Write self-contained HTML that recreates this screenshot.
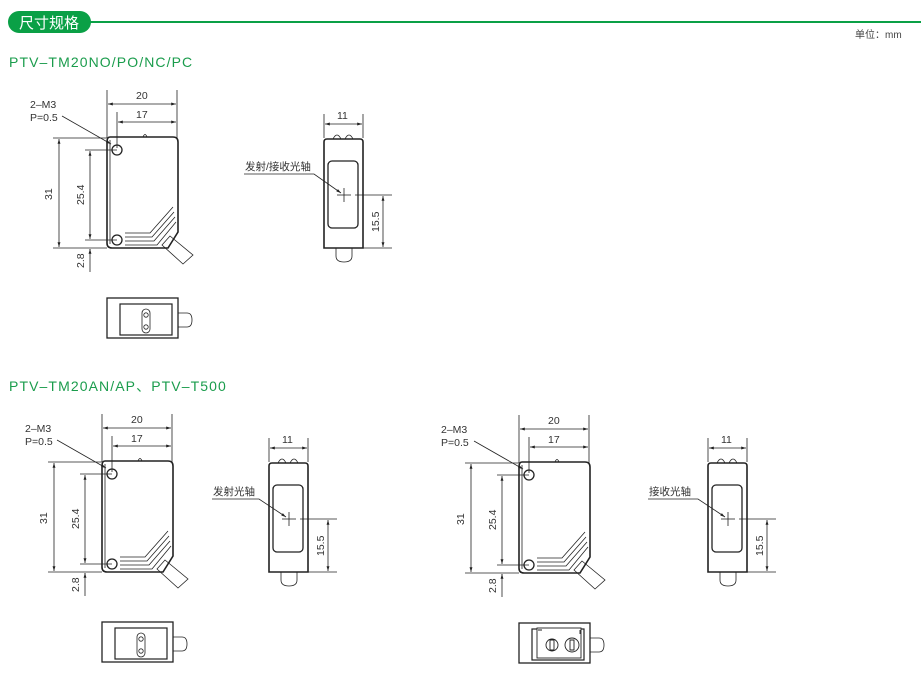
<!DOCTYPE html>
<html><head><meta charset="utf-8"><style>
html,body{margin:0;padding:0;background:#fff;width:921px;height:695px;overflow:hidden}
svg{display:block}
text{font-family:"Liberation Sans","Noto Sans CJK SC",sans-serif;fill:#333}
</style></head><body>
<svg width="921" height="695" viewBox="0 0 921 695" xmlns="http://www.w3.org/2000/svg">
<defs>
<marker id="a" viewBox="0 0 10 10" refX="10" refY="5" markerWidth="6" markerHeight="6" orient="auto-start-reverse"><path d="M0,2 L10,5 L0,8z" fill="#222"/></marker>
<g id="side" fill="none" stroke="#222" stroke-width="0.8">
 <line x1="107" y1="90" x2="107" y2="138"/><line x1="177" y1="90" x2="177" y2="138"/>
 <line x1="108" y1="104" x2="176" y2="104" marker-start="url(#a)" marker-end="url(#a)"/>
 <line x1="117" y1="112" x2="117" y2="148"/>
 <line x1="118" y1="122" x2="176" y2="122" marker-start="url(#a)" marker-end="url(#a)"/>
 <line x1="53" y1="138" x2="107" y2="138"/><line x1="53" y1="248" x2="107" y2="248"/>
 <line x1="59" y1="139" x2="59" y2="247" marker-start="url(#a)" marker-end="url(#a)"/>
 <line x1="85" y1="150" x2="117" y2="150"/><line x1="85" y1="240" x2="117" y2="240"/>
 <line x1="90" y1="151" x2="90" y2="239" marker-start="url(#a)" marker-end="url(#a)"/>
 <line x1="90" y1="249" x2="90" y2="272"/>
 <line x1="90" y1="252" x2="90" y2="249" marker-end="url(#a)"/>
 <line x1="62" y1="116" x2="111" y2="144" marker-end="url(#a)"/>
 <path d="M110,137 H173 Q178,137 178,142 V232 L168,248 H112 Q107,248 107,243 V142 Q107,137 110,137z" stroke-width="1.6"/>
 <path d="M110,140 V244" />
 <path d="M143,137 q2,-5 4,0"/>
 <circle cx="117" cy="150" r="5" stroke-width="1.3"/>
 <circle cx="117" cy="240" r="5" stroke-width="1.3"/>
 <path d="M125,233 H150 L173,207 M125,237 H152 L174,212 M125,241 H154 L175,217 M125,245 H157 L176,222"/>
 <path d="M162,245 L170,236 L193,255 L183,264z"/>
 <rect x="107" y="298" width="71" height="40" stroke-width="1.3"/>
 <rect x="120" y="304" width="52" height="31" stroke-width="1.2"/>
 <rect x="142" y="309" width="8" height="24" rx="4"/>
 <circle cx="146" cy="315" r="2.2"/><circle cx="146" cy="327" r="2.2"/>
 <path d="M178,313 H187 Q192,313 192,320 Q192,327 187,327 H178"/>
</g>
<g id="front" fill="none" stroke="#222" stroke-width="0.8">
 <line x1="324" y1="114" x2="324" y2="138"/><line x1="363" y1="114" x2="363" y2="138"/>
 <line x1="325" y1="124" x2="362" y2="124" marker-start="url(#a)" marker-end="url(#a)"/>
 <path d="M327,139 H360 Q363,139 363,142 V248 H324 V142 Q324,139 327,139z" stroke-width="1.6"/>
 <path d="M333,139 q4,-8 8,0 M345,139 q4,-8 8,0"/>
 <rect x="328" y="161" width="30" height="67" rx="4" stroke-width="1.3"/>
 <line x1="337" y1="195" x2="351" y2="195"/><line x1="344" y1="188" x2="344" y2="202"/>
 <line x1="355" y1="195" x2="392" y2="195"/><line x1="363" y1="248" x2="392" y2="248"/>
 <line x1="383" y1="196" x2="383" y2="247" marker-start="url(#a)" marker-end="url(#a)"/>
 <path d="M336,248 V256 Q336,262 344,262 Q352,262 352,256 V248"/>
</g>
</defs>

<rect x="8" y="11" width="83" height="22" rx="11" fill="#0aa046"/>
<line x1="90" y1="22" x2="921" y2="22" stroke="#0aa046" stroke-width="2"/>
<text x="19" y="28" font-size="15" style="fill:#fff">尺寸规格</text>
<text x="855" y="38" font-size="10" style="fill:#444">单位：mm</text>
<text x="9" y="67" font-size="14" letter-spacing="1.1" style="fill:#1a9c4c">PTV–TM20NO/PO/NC/PC</text>
<text x="9" y="391" font-size="14" letter-spacing="1.1" style="fill:#1a9c4c">PTV–TM20AN/AP、PTV–T500</text>

<use href="#side"/>
<use href="#front"/>
<g font-size="10.5">
<text x="30" y="108">2–M3</text><text x="30" y="121">P=0.5</text>
<text x="136" y="99">20</text><text x="136" y="118">17</text>
<text x="337" y="119">11</text>
<text transform="translate(52,200) rotate(-90)">31</text>
<text transform="translate(84,205) rotate(-90)">25.4</text>
<text transform="translate(84,268) rotate(-90)">2.8</text>
<text transform="translate(379,232) rotate(-90)">15.5</text>
<text x="245" y="170">发射/接收光轴</text>
</g>
<path d="M244,174 H314 L341,193" fill="none" stroke="#222" stroke-width="0.8" marker-end="url(#a)"/>

<g transform="translate(-5,324)"><use href="#side"/></g>
<g transform="translate(-55,324)"><use href="#front"/></g>
<g font-size="10.5">
<text x="25" y="432">2–M3</text><text x="25" y="445">P=0.5</text>
<text x="131" y="423">20</text><text x="131" y="442">17</text>
<text x="282" y="443">11</text>
<text transform="translate(47,524) rotate(-90)">31</text>
<text transform="translate(79,529) rotate(-90)">25.4</text>
<text transform="translate(79,592) rotate(-90)">2.8</text>
<text transform="translate(324,556) rotate(-90)">15.5</text>
<text x="213" y="495">发射光轴</text>
</g>
<path d="M212,499 H259 L286,517" fill="none" stroke="#222" stroke-width="0.8" marker-end="url(#a)"/>

<g transform="translate(412,325)"><use href="#side"/></g>
<g transform="translate(384,324)"><use href="#front"/></g>
<g font-size="10.5">
<text x="441" y="433">2–M3</text><text x="441" y="446">P=0.5</text>
<text x="548" y="424">20</text><text x="548" y="443">17</text>
<text x="721" y="443">11</text>
<text transform="translate(464,525) rotate(-90)">31</text>
<text transform="translate(496,530) rotate(-90)">25.4</text>
<text transform="translate(496,593) rotate(-90)">2.8</text>
<text transform="translate(763,556) rotate(-90)">15.5</text>
<text x="649" y="495">接收光轴</text>
</g>
<path d="M648,499 H698 L725,517" fill="none" stroke="#222" stroke-width="0.8" marker-end="url(#a)"/>
<g fill="none" stroke="#222" stroke-width="0.9">
<rect x="537" y="628" width="44" height="30" fill="#fff"/>
<circle cx="552" cy="645" r="6"/><circle cx="572" cy="645" r="7"/>
<path d="M550,640 h4 v10 h-4z M570,640 h4 v10 h-4z M580,630 v4 M538,630 h4"/>
</g>
</svg>
</body></html>
